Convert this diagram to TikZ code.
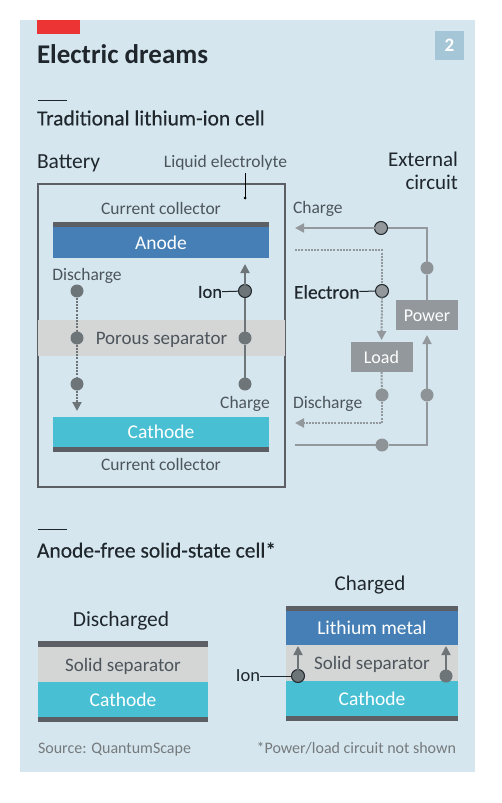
\documentclass[tikz,border=0pt]{standalone}
\usepackage{fontspec}
\setmainfont{Carlito}
\newfontfamily\headfont{Carlito}[FakeBold=0.35]
\usepackage{xcolor}
\usetikzlibrary{arrows.meta,positioning}
\definecolor{panelblue}{HTML}{D5E6EE}
\definecolor{anodeblue}{HTML}{457FB5}
\definecolor{cathodecyan}{HTML}{48BFD3}
\definecolor{sepgrey}{HTML}{D4D5D5}
\definecolor{collgrey}{HTML}{5C6064}
\definecolor{dotgrey}{HTML}{6E7579}
\definecolor{wiregrey}{HTML}{92989B}
\definecolor{inkdark}{HTML}{1F272D}
\definecolor{inkmid}{HTML}{4C555B}
\definecolor{econred}{HTML}{EC3434}
\definecolor{badgeblue}{HTML}{A5C6D7}

\begin{document}
\begin{tikzpicture}[
  x=1pt, y=-1pt,
  every node/.style={inner sep=0pt, outer sep=0pt},
  txt/.style={font=\fontsize{17.5}{21}\selectfont, text=inkmid},
  head/.style={font=\headfont\fontsize{21.5}{23}\selectfont, text=inkdark},
  small/.style={font=\fontsize{16}{19}\selectfont, text=wiregrey!80!black},
  layer/.style={minimum height=#1pt, font=\fontsize{19.5}{22}\selectfont, text=white, text height=13.5pt, text depth=0pt},
  coll/.style={fill=collgrey, minimum height=#1pt},
  band/.style={fill=sepgrey, font=\fontsize{19}{22}\selectfont, text=inkmid, text height=13.5pt, text depth=0pt},
  greybox/.style={fill=wiregrey, text=white, font=\fontsize{18}{21}\selectfont, minimum width=62pt, minimum height=30pt, text height=13.5pt, text depth=0pt},
  ball/.style={circle, fill=dotgrey, minimum size=13pt},
  wball/.style={circle, fill=wiregrey!85!dotgrey, minimum size=13pt},
  ringball/.style={circle, fill=dotgrey, draw=inkdark, line width=1pt, minimum size=13pt},
  wire/.style={draw=wiregrey, line width=1.8pt},
  wdots/.style={draw=wiregrey, line width=2pt, dash pattern=on 2pt off 1.2pt},
  bwire/.style={draw=dotgrey, line width=1.8pt},
  bdots/.style={draw=dotgrey, line width=2pt, dash pattern=on 2pt off 1.2pt},
  tip/.style={-{Triangle[length=9pt,width=9pt]}},
  leader/.style={draw=inkdark, line width=1pt},
  rulebar/.style={draw=inkdark, line width=1pt}
]
\useasboundingbox (0,0) rectangle (501,803);
\fill[white] (0,0) rectangle (501,803);
\fill[panelblue] (20,20) rectangle (475,772);

% header
\fill[econred] (37,20) rectangle (80,34);
\node[anchor=west, font=\fontsize{27}{32}\selectfont\bfseries, text=inkdark] (title) at (37,54) {Electric dreams};
\node[fill=badgeblue, minimum size=29pt, text=white, font=\fontsize{19}{22}\selectfont\bfseries] (badge) at (449.5,45.5) {2};
\coordinate (rule1a) at (38,100);
\coordinate (rule1b) at (67,100);
\draw[rulebar] (rule1a) -- (rule1b);
\node[head, anchor=west] (trad) at (37,118) {Traditional lithium-ion cell};

% battery
\node[head, font=\fontsize{21.5}{23}\selectfont, anchor=west] (battery) at (37,163.5) {Battery};
\node[txt, anchor=east] (electrolyte) at (287,163) {Liquid electrolyte};
\node[head, font=\fontsize{21}{23}\selectfont, align=right, anchor=north east] (external) at (458,152) {External\\circuit};
\node[draw=collgrey, line width=1.2pt, minimum width=247pt, minimum height=303pt] (cell) at (161.5,335.5) {};
\node[band, minimum width=247pt, minimum height=36pt] (porous) at (161.5,338) {Porous separator};
\node[coll=5, minimum width=216pt] (topcoll) at (161,224.5) {};
\node[layer=31, fill=anodeblue, minimum width=216pt, below=0pt of topcoll] (anode) {Anode};
\node[layer=30, fill=cathodecyan, minimum width=216pt] (cathode) at (161,432) {Cathode};
\node[coll=5, minimum width=216pt, below=0pt of cathode] (botcoll) {};
\node[txt, above=7pt of topcoll] (ctop) {Current collector};
\node[txt, below=6pt of botcoll] (cbot) {Current collector};
\node[circle, fill=black, minimum size=3pt] (eldot) at (245,198) {};
\coordinate (elstart) at (245,173);
\draw[draw=black, line width=1pt] (elstart) -- (eldot);

% ions in the cell
\node[ball] (d1) at (77,291) {};
\node[ball] (d2) at (77,338) {};
\node[ball] (d3) at (77,384) {};
\coordinate (dend) at (77,411);
\draw[bdots] (d1) -- (d2);
\draw[bdots] (d2) -- (d3);
\draw[bdots, tip] (d3) -- (dend);
\node[ringball] (ion) at (245,291) {};
\node[ball] (c2) at (245,338) {};
\node[ball] (c3) at (245,384) {};
\coordinate (cend) at (245,264);
\draw[bwire] (c3) -- (c2);
\draw[bwire] (c2) -- (ion);
\draw[bwire, tip] (ion) -- (cend);
\node[txt, anchor=center] (dlabel) at (87,276) {Discharge};
\node[txt, anchor=center] (clabel) at (245,404) {Charge};
\node[head, font=\headfont\fontsize{18.5}{22}\selectfont, anchor=east] (ionlabel) at (222,292) {Ion};
\draw[leader] (ionlabel) -- (ion);

% external circuit
\node[greybox] (power) at (427,315) {Power};
\node[greybox] (load) at (381.5,357) {Load};
\node[wball] (rtop) at (427,268) {};
\node[wball] (rbot) at (427,395) {};
\node[ringball, fill=wiregrey] (chg) at (381,228) {};
\node[ringball, fill=wiregrey] (electron) at (382,291) {};
\node[wball] (ldot) at (382,395) {};
\node[wball] (bdot) at (382,445) {};
\coordinate (chgend) at (295,228);
\coordinate (disstart) at (295,250);
\coordinate (disend) at (295,423);
\coordinate (botstart) at (295,445);
\draw[wire] (power.north) -- (rtop);
\draw[wire] (rtop) |- (chg);
\draw[wire, tip] (chg) -- (chgend);
\draw[wire] (botstart) -- (bdot);
\draw[wire] (bdot) -| (rbot);
\draw[wire, tip, shorten >=5pt] (rbot) -- (power.south);
\draw[wdots] (disstart) -| (electron);
\draw[wdots, tip, shorten >=2pt] (electron) -- (load.north);
\draw[wdots] (load.south) -- (ldot);
\draw[wdots, tip] (ldot) |- (disend);
\node[txt, anchor=west] (chglabel) at (293,209) {Charge};
\node[txt, anchor=west] (dislabel) at (293,404) {Discharge};
\node[head, font=\headfont\fontsize{19.5}{23}\selectfont, anchor=west] (elabel) at (294,292) {Electron};
\draw[leader] (elabel) -- (electron);

% anode-free cell
\coordinate (rule2a) at (38,529);
\coordinate (rule2b) at (67,529);
\draw[rulebar] (rule2a) -- (rule2b);
\node[head, anchor=west] (free) at (37,550) {Anode-free solid-state cell*};

\node[head, font=\fontsize{21.5}{23}\selectfont, anchor=center] (dcharged) at (121,620.5) {Discharged};
\node[coll=6, minimum width=170pt] (lcolltop) at (123,644) {};
\node[band, minimum width=170pt, minimum height=35pt, below=0pt of lcolltop] (lsep) {Solid separator};
\node[layer=35, fill=cathodecyan, minimum width=170pt, below=0pt of lsep] (lcath) {Cathode};
\node[coll=5, minimum width=170pt, below=0pt of lcath] (lcollbot) {};

\node[head, font=\fontsize{21}{23}\selectfont, anchor=center] (charged) at (370,585.5) {Charged};
\node[coll=5, minimum width=172pt] (rcolltop) at (372,608.5) {};
\node[layer=34, fill=anodeblue, minimum width=172pt, below=0pt of rcolltop] (lithium) {Lithium metal};
\node[band, minimum width=172pt, minimum height=36pt, below=0pt of lithium] (rsep) {Solid separator};
\node[layer=35, fill=cathodecyan, minimum width=172pt, below=0pt of rsep] (rcath) {Cathode};
\node[coll=5, minimum width=172pt, below=0pt of rcath] (rcollbot) {};
\node[ringball] (ion2) at (298,676) {};
\node[ball] (ion3) at (446,676) {};
\coordinate (ion2end) at (298,646);
\coordinate (ion3end) at (446,646);
\draw[bwire, tip] (ion2) -- (ion2end);
\draw[bwire, tip] (ion3) -- (ion3end);
\node[txt, anchor=east, text=inkdark, font=\fontsize{18.5}{22}\selectfont] (ion2label) at (260,676) {Ion};
\draw[leader] (ion2label) -- (ion2);

\node[small, anchor=west] (source) at (38,749.5) {Source: QuantumScape};
\node[small, anchor=east] (note) at (456,748.5) {*Power/load circuit not shown};
\end{tikzpicture}
\end{document}
